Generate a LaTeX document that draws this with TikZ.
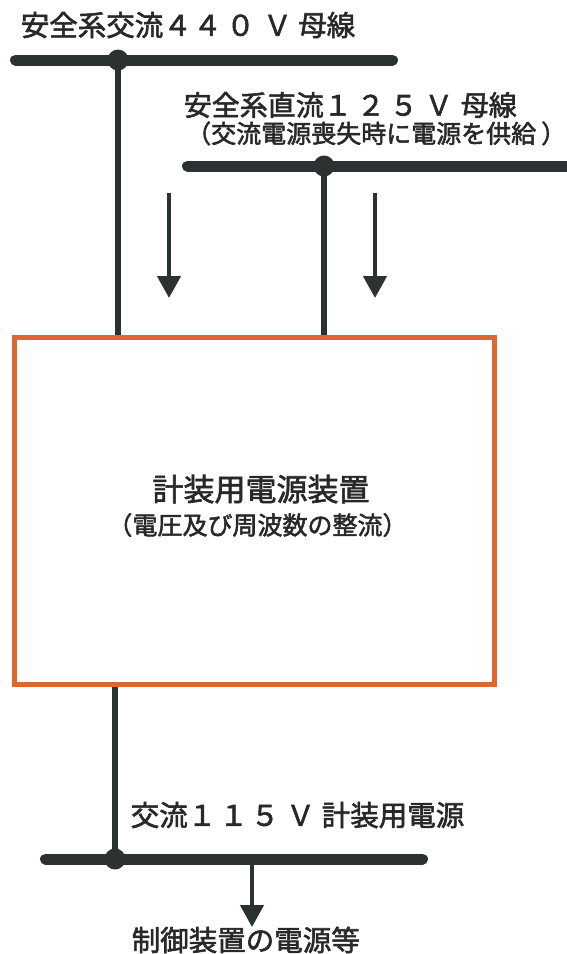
\documentclass[tikz,border=0pt]{standalone}
\usepackage{fontspec}
\setmainfont{Noto Sans CJK JP}[FakeBold=2]
\usetikzlibrary{arrows.meta}
\definecolor{ink}{RGB}{44,50,50}
\definecolor{txt}{RGB}{40,40,40}
\definecolor{boxc}{RGB}{222,102,48}
\tikzset{
  busline/.style={line width=11pt, line cap=round, draw=ink},
  feed/.style={line width=6.5pt, draw=ink},
  junc/.style={fill=ink},
  flowarrow/.style={line width=4.5pt, draw=ink, -{Triangle[width=23pt,length=22pt]}},
  lbl/.style={inner sep=0pt, text=txt, anchor=base west},
  mainbox/.style={draw=boxc, line width=5pt, fill=white, minimum width=480pt, minimum height=347pt, inner sep=0pt}
}
\begin{document}
\begin{tikzpicture}[x=1pt,y=-1pt]
\useasboundingbox[fill=white] (0,0) rectangle (566,954);
% main box
\node[mainbox] (box) at (254.5,510.5) {};
\node[inner sep=0pt, text=txt, anchor=base, font=\fontsize{31pt}{31pt}\selectfont] (title) at (261,500.8) {計装用電源装置};
\node[inner sep=0pt, text=txt, anchor=base, font=\fontsize{25pt}{25pt}\selectfont] (subtitle) at (257.5,534.5) {（電圧及び周波数の整流）};
% top AC bus
\coordinate (b1l) at (15.5,60);
\coordinate (b1r) at (392.5,60);
\coordinate (j1) at (118,60);
\draw[busline] (b1l) -- (b1r);
\draw[feed] (j1) -- (j1 |- box.north);
\fill[junc] (j1) circle (10.5);
\node[lbl, font=\fontsize{28.5pt}{28.5pt}\selectfont] (l1) at (20.6,35.8) {安全系交流４\kern1.5pt４\kern4.5pt０\kern8.5ptＶ\kern6.5pt母線};
% DC bus
\coordinate (b2l) at (187.5,166);
\coordinate (b2r) at (575,166);
\coordinate (j2) at (324,166);
\draw[busline] (b2l) -- (b2r);
\draw[feed] (j2) -- (j2 |- box.north);
\fill[junc] (j2) circle (10.5);
\node[lbl, font=\fontsize{28pt}{28pt}\selectfont] (l2a) at (183.6,115.6) {安全系直流１\kern5pt２\kern5pt５\kern7ptＶ\kern8pt母線};
\node[lbl, font=\fontsize{25pt}{25pt}\selectfont] (l2b) at (186,142.9) {（交流電源喪失時に電源を供給\kern5pt\makebox[10pt][l]{）}};
% arrows
\coordinate (a1s) at (169,193);
\coordinate (a1e) at (169,298);
\coordinate (a2s) at (375,193);
\coordinate (a2e) at (375,298);
\draw[flowarrow] (a1s) -- (a1e);
\draw[flowarrow] (a2s) -- (a2e);
% bottom bus
\coordinate (b3l) at (45.5,859);
\coordinate (b3r) at (422.5,859);
\coordinate (j3) at (115,859);
\coordinate (o3) at (252,859);
\coordinate (o3e) at (252,927);
\draw[feed] (box.south -| j3) -- (j3);
\draw[busline] (b3l) -- (b3r);
\fill[junc] (j3) circle (10.5);
\draw[flowarrow] (o3) -- (o3e);
\node[lbl, font=\fontsize{28.5pt}{28.5pt}\selectfont] (l3) at (130.6,825.8) {交流１\kern3pt１\kern3pt５\kern7ptＶ\kern7pt計装用電源};
\node[lbl, font=\fontsize{28.5pt}{28.5pt}\selectfont] (l4) at (131.6,950.8) {制御装置の電源等};
\end{tikzpicture}
\end{document}
